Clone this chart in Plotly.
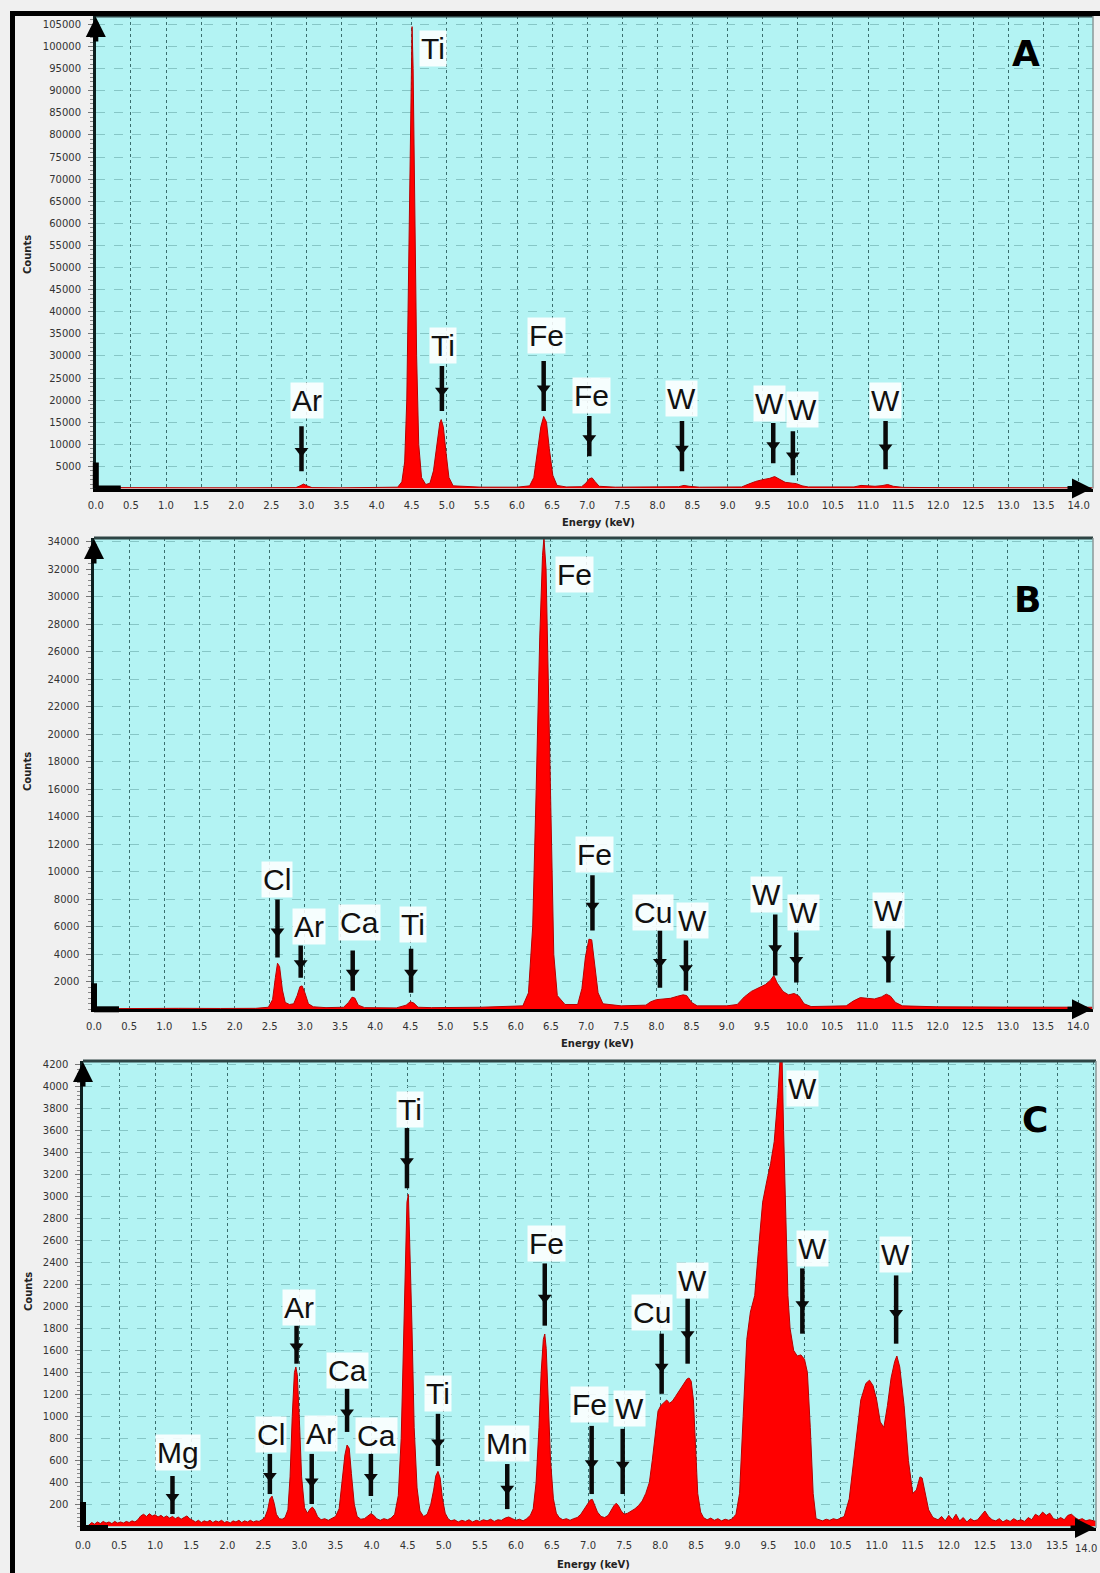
import plotly.graph_objects as go

W, H = 1100, 1573

# ---------------- DATA ----------------
# Panel A spectrum (energy keV, counts)
A_energy = [0.00, 0.05, 0.2, 0.5, 1.0, 1.5, 2.0, 2.5, 2.85, 2.91, 2.96, 3.01, 3.08, 3.5, 4.0, 4.30, 4.36, 4.40,
            4.43, 4.46, 4.49, 4.505, 4.52, 4.545, 4.57, 4.60, 4.64, 4.70, 4.76, 4.81, 4.86, 4.90, 4.92, 4.95,
            4.99, 5.03, 5.09, 5.5, 6.0, 6.18, 6.24, 6.29, 6.34, 6.38, 6.42, 6.46, 6.51, 6.57, 6.7, 6.92, 6.98,
            7.03, 7.07, 7.11, 7.17, 7.4, 8.0, 8.3, 8.38, 8.45, 8.6, 9.2, 9.3, 9.4, 9.5, 9.6, 9.67, 9.73, 9.82,
            9.92, 9.98, 10.06, 10.15, 10.8, 10.9, 11.0, 11.1, 11.2, 11.28, 11.36, 11.5, 12.0, 13.0, 14.2]
A_counts = [0, 300, 200, 150, 150, 150, 150, 150, 200, 600, 1000, 600, 200, 150, 150, 300, 1500, 6000,
            20000, 50000, 90000, 104500, 95000, 60000, 30000, 10000, 2500, 900, 1200, 4000, 10000, 14800, 15600, 14000,
            8000, 2500, 600, 300, 300, 600, 2500, 8000, 14000, 16300, 15000, 9000, 3000, 700, 350, 400, 1200,
            2200, 2400, 1600, 500, 300, 300, 400, 700, 500, 300, 350, 1000, 1600, 2000, 2300, 2700, 2200, 1400,
            1200, 1100, 600, 350, 350, 700, 600, 500, 650, 900, 500, 250, 200, 200, 150]

A_labels = ["Ti", "Ti", "Fe", "Fe", "Ar", "W", "W", "W", "W"]
A_label_x = [4.80, 4.95, 6.42, 7.06, 3.01, 8.35, 9.60, 10.06, 11.25]
A_label_y = [99600, 32260, 34520, 20930, 19800, 20250, 19340, 17960, 19800]
A_arrow_x = [4.93, 6.38, 7.03, 2.93, 8.35, 9.65, 9.93, 11.25]
A_arrow_top = [27710, 28850, 16380, 14100, 15250, 14800, 12960, 15250]
A_arrow_bot = [17510, 17510, 7300, 3900, 3900, 5720, 2990, 4340]
A_yticks = list(range(5000, 105001, 5000))

# Panel B spectrum
B_energy = [0, 0.05, 0.3, 0.8, 1.2, 1.8, 2.3, 2.48, 2.54, 2.58, 2.61, 2.64, 2.68, 2.72, 2.78, 2.84, 2.89, 2.93,
            2.96, 3.00, 3.05, 3.12, 3.3, 3.55, 3.62, 3.67, 3.71, 3.76, 3.85, 4.3, 4.44, 4.50, 4.55, 4.61, 4.8,
            5.5, 6.1, 6.18, 6.24, 6.29, 6.34, 6.38, 6.40, 6.43, 6.46, 6.50, 6.54, 6.59, 6.7, 6.88, 6.94, 6.99,
            7.04, 7.08, 7.12, 7.17, 7.24, 7.5, 7.85, 7.92, 8.00, 8.10, 8.20, 8.30, 8.38, 8.43, 8.50, 8.58, 9.0,
            9.15, 9.25, 9.35, 9.45, 9.55, 9.62, 9.67, 9.72, 9.80, 9.88, 9.96, 10.03, 10.10, 10.2, 10.7, 10.8,
            10.9, 11.0, 11.1, 11.2, 11.27, 11.33, 11.40, 11.5, 12, 13, 14.2]
B_counts = [0, 60, 50, 80, 70, 60, 70, 150, 700, 2300, 3350, 3100, 1400, 500, 350, 400, 1000, 1650,
            1700, 1200, 400, 180, 120, 150, 500, 880, 820, 300, 120, 100, 300, 550, 450, 150, 120,
            150, 250, 1200, 6000, 16000, 27000, 33000, 34300, 32000, 24000, 12000, 4000, 1000, 350, 350, 1500, 3800,
            5100, 5050, 3500, 1200, 400, 250, 300, 550, 700, 750, 800, 950, 1050, 1000, 500, 250, 250,
            350, 900, 1300, 1550, 1800, 2100, 2450, 1900, 1300, 1050, 1150, 950, 400, 200, 250, 600,
            850, 800, 750, 900, 1100, 950, 500, 250, 180, 160, 150]

B_labels = ["Fe", "Cl", "Ar", "Ca", "Ti", "Fe", "Cu", "W", "W", "W", "W"]
B_label_x = [6.83, 2.61, 3.06, 3.77, 4.54, 7.12, 7.95, 8.52, 9.57, 10.09, 11.30]
B_label_y = [31610, 9445, 6020, 6310, 6170, 11270, 7040, 6460, 8350, 7040, 7190]
B_arrow_x = [2.61, 2.94, 3.68, 4.51, 7.09, 8.05, 8.42, 9.69, 9.99, 11.30]
B_arrow_top = [7990, 4640, 4270, 4410, 9740, 5730, 5000, 6890, 5580, 5730]
B_arrow_bot = [3760, 2300, 1350, 1210, 5730, 1570, 1350, 2450, 1940, 1940]
B_yticks = list(range(2000, 34001, 2000))

# Panel C spectrum
C_energy = [0.00, 0.08, 0.12, 0.16, 0.20, 0.24, 0.28, 0.32, 0.36, 0.40, 0.44, 0.48, 0.52, 0.56, 0.60, 0.64,
            0.68, 0.72, 0.76, 0.80, 0.84, 0.88, 0.92, 0.96, 1.00, 1.04, 1.08, 1.12, 1.16, 1.20, 1.24, 1.28,
            1.32, 1.36, 1.40, 1.44, 1.48, 1.52, 1.56, 1.60, 1.64, 1.68, 1.72, 1.76, 1.80, 1.84, 1.88, 1.92,
            1.96, 2.00, 2.04, 2.08, 2.12, 2.16, 2.20, 2.24, 2.28, 2.32, 2.36, 2.40, 2.44, 2.48, 2.52, 2.56,
            2.59, 2.62, 2.65, 2.68, 2.72, 2.76, 2.80, 2.84, 2.87, 2.90, 2.93, 2.95, 2.97, 3.00, 3.03, 3.07,
            3.11, 3.15, 3.18, 3.21, 3.25, 3.30, 3.35, 3.40, 3.45, 3.50, 3.55, 3.59, 3.63, 3.66, 3.69, 3.72,
            3.76, 3.80, 3.85, 3.90, 3.95, 3.99, 4.03, 4.07, 4.12, 4.17, 4.22, 4.27, 4.32, 4.37, 4.41, 4.44,
            4.47, 4.49, 4.51, 4.53, 4.56, 4.59, 4.63, 4.67, 4.72, 4.77, 4.82, 4.86, 4.89, 4.92, 4.95, 4.98,
            5.02, 5.06, 5.10, 5.15, 5.20, 5.25, 5.30, 5.35, 5.40, 5.45, 5.50, 5.55, 5.60, 5.65, 5.70, 5.75,
            5.80, 5.85, 5.90, 5.95, 6.00, 6.05, 6.10, 6.15, 6.20, 6.24, 6.28, 6.32, 6.35, 6.38, 6.40, 6.42,
            6.45, 6.48, 6.52, 6.56, 6.60, 6.65, 6.70, 6.75, 6.80, 6.85, 6.90, 6.95, 6.99, 7.03, 7.06, 7.09,
            7.13, 7.18, 7.23, 7.28, 7.32, 7.36, 7.39, 7.42, 7.46, 7.50, 7.55, 7.60, 7.65, 7.70, 7.75, 7.80,
            7.85, 7.89, 7.93, 7.97, 8.01, 8.05, 8.09, 8.13, 8.17, 8.21, 8.25, 8.29, 8.33, 8.37, 8.40, 8.43,
            8.46, 8.49, 8.52, 8.56, 8.60, 8.65, 8.70, 8.75, 8.80, 8.85, 8.90, 8.95, 9.00, 9.05, 9.10, 9.15,
            9.20, 9.25, 9.31, 9.36, 9.42, 9.48, 9.53, 9.58, 9.63, 9.66, 9.69, 9.71, 9.73, 9.75, 9.77, 9.80,
            9.85, 9.90, 9.95, 10.00, 10.04, 10.08, 10.12, 10.16, 10.20, 10.25, 10.30, 10.35, 10.40, 10.45,
            10.50, 10.55, 10.62, 10.70, 10.78, 10.85, 10.90, 10.95, 11.00, 11.05, 11.10, 11.15, 11.20, 11.25,
            11.28, 11.32, 11.38, 11.44, 11.50, 11.55, 11.60, 11.63, 11.67, 11.72, 11.78, 11.85, 11.90, 11.95,
            12.00, 12.05, 12.10, 12.15, 12.20, 12.25, 12.30, 12.35, 12.40, 12.45, 12.50, 12.55, 12.60, 12.65,
            12.70, 12.75, 12.80, 12.85, 12.90, 12.95, 13.00, 13.05, 13.10, 13.15, 13.20, 13.25, 13.30, 13.35,
            13.40, 13.45, 13.50, 13.55, 13.60, 13.65, 13.70, 13.75, 13.80, 13.85, 13.90, 13.95, 14.00, 14.04]
C_counts = [0, 10, 35, 20, 40, 25, 45, 30, 40, 25, 45, 30, 40, 30, 45, 35,
            50, 40, 60, 95, 110, 90, 115, 95, 105, 85, 100, 80, 95, 75, 90, 70,
            85, 65, 80, 95, 70, 55, 40, 55, 35, 50, 40, 55, 35, 50, 40, 55,
            35, 45, 30, 50, 40, 55, 35, 50, 40, 55, 40, 50, 45, 60, 80, 150,
            250, 275, 210, 110, 70, 65, 80, 150, 450, 1000, 1400, 1450, 1380, 950, 450, 170,
            120, 160, 175, 150, 90, 60, 70, 55, 70, 90, 160, 400, 650, 740, 710, 480,
            200, 90, 65, 70, 95, 115, 100, 70, 55, 70, 60, 75, 110, 280, 800, 1700,
            2500, 2950, 3020, 2600, 1800, 900, 350, 140, 90, 110, 200, 330, 460, 500, 440, 260,
            120, 70, 50, 60, 40, 55, 45, 60, 40, 55, 45, 60, 50, 65, 45, 60,
            55, 75, 85, 70, 55, 65, 50, 70, 100, 160, 400, 900, 1400, 1700, 1750, 1620,
            1100, 600, 250, 120, 80, 60, 70, 55, 70, 80, 110, 160, 210, 240, 245, 200,
            130, 90, 80, 100, 150, 190, 210, 190, 140, 110, 120, 140, 160, 190, 230, 300,
            400, 600, 850, 1050, 1100, 1130, 1150, 1120, 1140, 1180, 1220, 1260, 1300, 1340, 1350, 1320,
            1150, 700, 300, 130, 80, 60, 75, 55, 70, 50, 65, 55, 70, 110, 300, 1000,
            1700, 1950, 2100, 2500, 2950, 3150, 3300, 3500, 3900, 4240, 4240, 3600, 3000, 2500, 2100, 1800,
            1600, 1550, 1560, 1520, 1400, 900, 300, 70, 60, 50, 65, 55, 70, 60,
            75, 90, 250, 700, 1150, 1300, 1330, 1280, 1150, 950, 900, 1100, 1350, 1500,
            1550, 1450, 1100, 600, 300, 330, 450, 440, 300, 150, 80, 60, 90, 50,
            100, 60, 110, 50, 80, 40, 70, 50, 60, 100, 140, 90, 60, 50,
            70, 40, 60, 45, 70, 50, 60, 45, 80, 60, 110, 90, 130, 100,
            120, 70, 60, 80, 60, 100, 110, 80, 60, 70, 50, 60, 50, 45]

C_labels = ["Mg", "Cl", "Ar", "Ar", "Ca", "Ca", "Ti", "Ti", "Mn", "Fe", "Fe", "W", "Cu", "W", "W", "W", "W"]
C_label_x = [1.31, 2.60, 3.00, 3.30, 3.66, 4.07, 4.53, 4.92, 5.88, 6.42, 7.02, 7.58, 7.88, 8.45, 9.97, 10.11, 11.26]
C_label_y = [668, 832, 1991, 841, 1416, 823, 3797, 1206, 750, 2575, 1106, 1069, 1945, 2238, 3988, 2529, 2474]
C_arrow_x = [1.24, 2.59, 2.96, 3.17, 3.66, 3.99, 4.49, 4.92, 5.88, 6.40, 7.05, 7.48, 8.02, 8.38, 9.97, 11.27]
C_arrow_top = [458, 659, 1826, 659, 1252, 659, 3624, 1024, 567, 2392, 914, 887, 1753, 2073, 2347, 2283]
C_arrow_bot = [112, 294, 1480, 203, 859, 276, 3076, 549, 157, 1826, 294, 294, 1206, 1480, 1753, 1662]
C_yticks = list(range(200, 4201, 200))

x_ticks = [i * 0.5 for i in range(29)]

# ---------------- LAYOUT GEOMETRY (pixels) ----------------
panels = [
    dict(name="A", energy=A_energy, counts=A_counts, labels=A_labels, lx=A_label_x, ly=A_label_y,
         ax=A_arrow_x, at=A_arrow_top, ab=A_arrow_bot, yticks=A_yticks, ymin=0, ymax=106900, xmax=14.205,
         left=95.8, right=1093, top=16, bottom=488.5, minor=1000,
         letter_xy=(1026, 53), counts_y=255, energy_y=522),
    dict(name="B", energy=B_energy, counts=B_counts, labels=B_labels, lx=B_label_x, ly=B_label_y,
         ax=B_arrow_x, at=B_arrow_top, ab=B_arrow_bot, yticks=B_yticks, ymin=0, ymax=34270, xmax=14.21,
         left=94, right=1093, top=538, bottom=1009.3, minor=400,
         letter_xy=(1027, 599), counts_y=772, energy_y=1043),
    dict(name="C", energy=C_energy, counts=C_counts, labels=C_labels, lx=C_label_x, ly=C_label_y,
         ax=C_arrow_x, at=C_arrow_top, ab=C_arrow_bot, yticks=C_yticks, ymin=-15, ymax=4234, xmax=14.04,
         left=83, right=1096, top=1061, bottom=1528, minor=40,
         letter_xy=(1035, 1119), counts_y=1292, energy_y=1564),
]


def PX(x):
    return x / W


def PY(y):
    return 1 - y / H


fig = go.Figure()
annotations = []
shapes = []

tickfont = dict(family="DejaVu Sans", size=10, color="#333333")
label_font = dict(family="Liberation Sans, Arial", size=30, color="#111111")

for i, p in enumerate(panels):
    n = i + 1
    xa = "x" if n == 1 else f"x{n}"
    ya = "y" if n == 1 else f"y{n}"
    # spectrum
    fig.add_trace(go.Scatter(x=p["energy"], y=p["counts"], mode="lines", fill="tozeroy",
                             fillcolor="#ff0000", line=dict(color="#b80000", width=1),
                             xaxis=xa, yaxis=ya, showlegend=False, hoverinfo="skip"))
    # arrows
    ax_x, ax_y = [], []
    hx, hy = [], []
    for e, t, b in zip(p["ax"], p["at"], p["ab"]):
        ax_x += [e, e, None]
        ax_y += [t, b, None]
        hx.append(e)
        hy.append(t + 0.55 * (b - t))
    fig.add_trace(go.Scatter(x=ax_x, y=ax_y, mode="lines", line=dict(color="#0a0a0a", width=4.5),
                             xaxis=xa, yaxis=ya, showlegend=False, hoverinfo="skip"))
    fig.add_trace(go.Scatter(x=hx, y=hy, mode="markers",
                             marker=dict(symbol="triangle-down", size=12, color="#0a0a0a"),
                             xaxis=xa, yaxis=ya, showlegend=False, hoverinfo="skip"))
    # element labels
    for t, x, y in zip(p["labels"], p["lx"], p["ly"]):
        annotations.append(dict(x=x, y=y, xref=xa, yref=ya, text=t, showarrow=False,
                                xanchor="center", yanchor="middle",
                                font=label_font, bgcolor="rgba(255,255,255,0.88)", borderpad=1))
    # axes
    xdom = [PX(p["left"]), PX(p["right"])]
    ydom = [PY(p["bottom"]), PY(p["top"])]
    xkey = "xaxis" if n == 1 else f"xaxis{n}"
    ykey = "yaxis" if n == 1 else f"yaxis{n}"
    fig.update_layout({
        xkey: dict(domain=xdom, range=[0, p["xmax"]], anchor=ya, tickvals=x_ticks,
                   ticktext=[f"{v:.1f}" for v in x_ticks], showgrid=True, gridcolor="#3a6e6e",
                   griddash="dot", gridwidth=1.3, showline=True, linecolor="#000000", linewidth=2.5,
                   ticks="", tickfont=tickfont, ticklabelstandoff=6, zeroline=False, fixedrange=True,
                   automargin=False),
        ykey: dict(domain=ydom, range=[p["ymin"], p["ymax"]], anchor=xa, tickvals=p["yticks"],
                   ticktext=[str(v) for v in p["yticks"]],
                   showgrid=True, gridcolor="#86c6c6", griddash="dash", gridwidth=1,
                   showline=True, linecolor="#0d1f1f", linewidth=2.5, ticks="outside", ticklen=5,
                   tickcolor="#777777", tickfont=tickfont, ticklabelstandoff=5, zeroline=False,
                   minor=dict(ticks="outside", ticklen=3, dtick=p["minor"], tickcolor="#888888",
                              showgrid=False),
                   fixedrange=True, automargin=False),
    })
    # plot frame: dark top border, grey right border
    shapes.append(dict(type="line", xref="paper", yref="paper", x0=PX(p["left"]), x1=PX(p["right"]),
                       y0=PY(p["top"]), y1=PY(p["top"]), line=dict(color="#2e4444", width=3)))
    shapes.append(dict(type="line", xref="paper", yref="paper", x0=PX(p["right"]), x1=PX(p["right"]),
                       y0=PY(p["top"]), y1=PY(p["bottom"]), line=dict(color="#8a9a9a", width=1.5)))
    # origin "L" mark
    shapes.append(dict(type="line", xref="paper", yref="paper", x0=PX(p["left"]), x1=PX(p["left"]),
                       y0=PY(p["bottom"]), y1=PY(p["bottom"] - 26), line=dict(color="#000000", width=6)))
    shapes.append(dict(type="line", xref="paper", yref="paper", x0=PX(p["left"]), x1=PX(p["left"] + 25),
                       y0=PY(p["bottom"]), y1=PY(p["bottom"]), line=dict(color="#000000", width=6)))
    # axis arrows
    annotations.append(dict(x=PX(p["left"]), y=PY(p["top"] + 1), xref="paper", yref="paper", text="",
                            showarrow=True, ax=0, ay=26, arrowhead=2, arrowsize=0.8, arrowwidth=5,
                            arrowcolor="#000000"))
    annotations.append(dict(x=PX(p["right"] - 1), y=PY(p["bottom"]), xref="paper", yref="paper", text="",
                            showarrow=True, ax=-26, ay=0, arrowhead=2, arrowsize=0.8, arrowwidth=5,
                            arrowcolor="#000000"))
    # panel letter
    annotations.append(dict(x=PX(p["letter_xy"][0]), y=PY(p["letter_xy"][1]), xref="paper", yref="paper",
                            text=f"<b>{p['name']}</b>", showarrow=False, xanchor="center", yanchor="middle",
                            font=dict(family="DejaVu Sans", size=36, color="#000000")))
    # axis titles
    annotations.append(dict(x=PX(28), y=PY(p["counts_y"]), xref="paper", yref="paper", text="<b>Counts</b>",
                            showarrow=False, textangle=-90, xanchor="center", yanchor="middle",
                            font=dict(family="DejaVu Sans", size=10, color="#222222")))
    annotations.append(dict(x=PX((p["left"] + p["right"]) / 2 + 4), y=PY(p["energy_y"]), xref="paper",
                            yref="paper", text="<b>Energy (keV)</b>", showarrow=False,
                            xanchor="center", yanchor="middle",
                            font=dict(family="DejaVu Sans", size=10, color="#222222")))

# last x tick label of panel C (kept inside the right edge)
annotations.append(dict(x=PX(1099), y=PY(1548), xref="paper", yref="paper", text=f"{x_ticks[-1]:.1f}",
                        showarrow=False, xanchor="right", yanchor="middle", font=tickfont))

# outer black frame
shapes.append(dict(type="line", xref="paper", yref="paper", x0=PX(12.5), x1=PX(12.5), y0=PY(11), y1=PY(H),
                   line=dict(color="#000000", width=5)))
shapes.append(dict(type="line", xref="paper", yref="paper", x0=PX(10), x1=PX(W), y0=PY(13.5), y1=PY(13.5),
                   line=dict(color="#000000", width=5)))

fig.update_layout(width=W, height=H, margin=dict(l=0, r=0, t=0, b=0, pad=0), paper_bgcolor="#f0f0f0",
                  plot_bgcolor="#b3f3f3", annotations=annotations, shapes=shapes, showlegend=False,
                  autosize=False)

fig.write_html("out.html", config={"displayModeBar": False, "responsive": False})

# remove default page margins so the figure fills the window exactly
with open("out.html", "r", encoding="utf-8") as f:
    html = f.read()
html = html.replace("<head>", "<head><style>html,body{margin:0;padding:0;overflow:hidden;}</style>", 1)
with open("out.html", "w", encoding="utf-8") as f:
    f.write(html)
